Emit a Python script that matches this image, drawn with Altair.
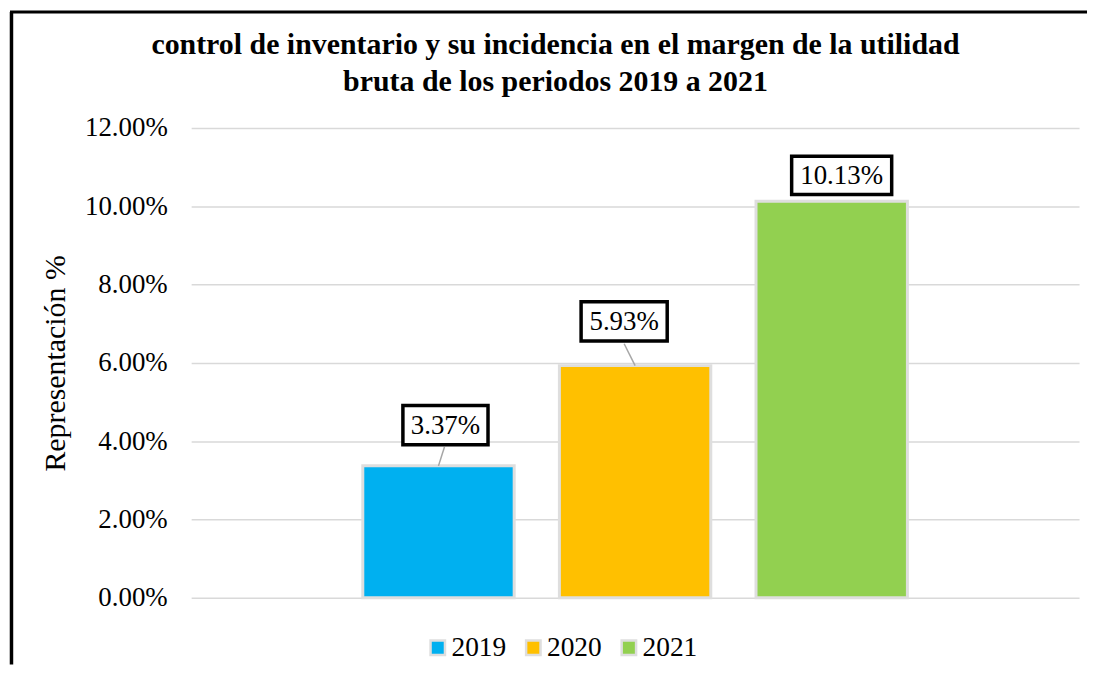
import altair as alt
import pandas as pd

# ---- data ----
years = ["2019", "2020", "2021"]
values = [0.0337, 0.0593, 0.1013]
colors = ["#00B0F0", "#FFC000", "#92D050"]
y_ticks = [0.0, 0.02, 0.04, 0.06, 0.08, 0.10, 0.12]
title_lines = ["control de inventario y su incidencia en el margen de la utilidad",
               "bruta de los periodos 2019 a 2021"]

# ---- label placement (style) ----
lab_dx = [7, -11, 10]
lab_dy = [-41, -44.5, -26]
lab_w = [89, 90, 104]
lab_h = [43, 43, 42]
leaders = [(6, -19), (-11, -22), None]

SERIF = "Liberation Serif, Times New Roman, serif"
W, H = 892, 472

df = pd.DataFrame({"year": years, "value": values})

xscale = alt.Scale(paddingInner=0.23, paddingOuter=0.873)
yscale = alt.Scale(domain=[0, 0.12])

base = alt.Chart(df)

bars = base.mark_bar(stroke="#dedede", strokeWidth=3).encode(
    x=alt.X("year:N", scale=xscale, axis=None),
    y=alt.Y("value:Q", scale=yscale,
            axis=alt.Axis(values=y_ticks, format=".2%", title="Representación %",
                          labelFont=SERIF, labelFontSize=27, labelColor="black",
                          labelPadding=24, titleFont=SERIF, titleFontSize=30,
                          titleFontWeight="normal", titleColor="black", titlePadding=14,
                          grid=True, gridColor="#d9d9d9", gridWidth=1.5,
                          domain=False, ticks=False)),
    color=alt.Color("year:N", scale=alt.Scale(domain=years, range=colors),
                    legend=alt.Legend(title=None, orient="none", direction="horizontal",
                                      legendX=234, legendY=508,
                                      symbolType="square", symbolSize=210,
                                      symbolStrokeColor="#dedede", symbolStrokeWidth=2.5,
                                      symbolOpacity=1,
                                      labelFont=SERIF, labelFontSize=27.5, labelColor="black",
                                      labelOffset=0, columnPadding=13)),
)

layers = [bars]
for i, yr in enumerate(years):
    sub = base.transform_filter(alt.datum.year == yr)
    s = 3.5
    bw = lab_w[i] - s
    bh = lab_h[i] - s
    r = bh / bw
    path = f"M-1,-{r:.4f}L1,-{r:.4f}L1,{r:.4f}L-1,{r:.4f}Z"
    if leaders[i] is not None:
        ldx, ldy = leaders[i]
        layers.append(sub.mark_rule(color="#a6a6a6", strokeWidth=1.5,
                                    x2Offset=ldx, y2Offset=ldy).encode(
            x=alt.X("year:N", bandPosition=0.5, axis=None),
            x2=alt.X2("year", bandPosition=0.5),
            y="value:Q", y2="value"))
    layers.append(sub.mark_point(shape=path, size=bw * bw, filled=True, fill="white",
                                 stroke="black", strokeWidth=s, opacity=1,
                                 xOffset=lab_dx[i], yOffset=lab_dy[i]).encode(
        x=alt.X("year:N", axis=None), y="value:Q"))
    layers.append(sub.mark_text(font=SERIF, fontSize=27, color="black",
                                baseline="middle", align="center",
                                xOffset=lab_dx[i], yOffset=lab_dy[i] + 1).encode(
        x=alt.X("year:N", axis=None), y="value:Q",
        text=alt.Text("value:Q", format=".2%")))

one = pd.DataFrame({"a": [0]})
# chart title as text marks
title_y = [-83, -46]
for line, ty in zip(title_lines, title_y):
    layers.append(alt.Chart(one).mark_text(font=SERIF, fontSize=30, fontWeight="bold",
                                           color="black", align="center",
                                           baseline="middle").encode(
        x=alt.value(366), y=alt.value(ty), text=alt.value(line)))

# outer chart frame
frame_left = alt.Chart(one).mark_rule(color="black", strokeWidth=3.5).encode(
    x=alt.value(-180.5), y=alt.value(-116.5), y2=alt.value(539))
frame_top = alt.Chart(one).mark_rule(color="black", strokeWidth=3).encode(
    x=alt.value(-182), x2=alt.value(900), y=alt.value(-116.5))
layers += [frame_left, frame_top]

chart = alt.layer(*layers).properties(
    width=W, height=H,
    padding=0,
    background="white",
).configure_view(strokeWidth=0, stroke="transparent")

chart.save("out.html", embed_options={"renderer": "svg", "actions": False})
